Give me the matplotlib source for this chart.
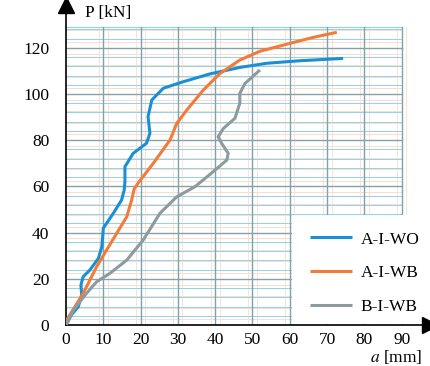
import matplotlib
matplotlib.use("Agg")
import matplotlib.pyplot as plt
import numpy as np

# ---- data ----
wo_x = [0, 1.5, 3.3, 4.2, 4.0, 4.6, 6.4, 8.7, 9.6, 10.0, 12.7, 14.9, 15.6, 15.8, 15.8, 18.0, 21.6, 22.5, 22.0, 23.0, 26.1, 31.4, 38.6, 46.6, 53.8, 62.7, 74.3]
wo_y = [0, 4.5, 7.9, 13.0, 17.3, 20.9, 23.8, 28.9, 33.9, 41.9, 48.4, 54.1, 58.4, 62.0, 68.5, 74.3, 78.7, 83.0, 90.2, 97.4, 102.5, 105.3, 108.7, 111.5, 113.3, 114.4, 115.4]

wb_x = [0, 0.2, 4.6, 8.2, 10.9, 13.6, 16.3, 17.6, 18.3, 19.5, 23.4, 27.9, 29.7, 32.4, 36.8, 41.3, 46.6, 52.0, 60.0, 66.0, 72.6]
wb_y = [0, 2.2, 13.7, 25.2, 32.5, 39.7, 46.9, 54.1, 59.0, 61.8, 70.0, 80.1, 87.3, 93.1, 101.7, 108.9, 114.7, 118.5, 121.9, 124.4, 126.7]

b_x = [0, 2.0, 5.5, 8.2, 11.8, 16.3, 20.7, 25.2, 29.7, 34.6, 40.0, 43.1, 43.5, 41.7, 40.8, 42.2, 45.3, 46.6, 46.6, 48.0, 52.0]
b_y = [0, 6.5, 13.7, 18.7, 22.4, 28.1, 36.8, 48.4, 55.5, 59.9, 67.1, 71.4, 74.3, 78.7, 81.5, 85.1, 89.5, 96.0, 100.3, 104.6, 110.4]

labels = ["A-I-WO", "A-I-WB", "B-I-WB"]
x_ticks = list(range(0, 100, 10))
y_ticks = list(range(0, 140, 20))

colors = ["#1a8fd4", "#f27b3a", "#8d9ba0"]

plt.rcParams['font.family'] = ['Liberation Serif', 'DejaVu Serif']
plt.rcParams['mathtext.fontset'] = 'stix'

fig = plt.figure(figsize=(4.31, 3.66), dpi=100)
ax = fig.add_axes([66/431, 1-325/366, (430-66)/431, (325-5)/366])
xmax = (430-66)/3.73
ymax = (325-5)/2.31
ax.set_xlim(0, xmax)
ax.set_ylim(0, ymax)

# grid
gx_max, gy_max = 90, 129
for y in np.arange(4, gy_max, 4):
    ax.plot([0, gx_max], [y, y], color="#8fd3e8", lw=0.7, zorder=1)
for y in np.arange(2.5, gy_max, 5):
    ax.plot([0, gx_max], [y, y], color="#f9dccf", lw=0.7, zorder=0.9)
for y in range(20, gy_max, 20):
    ax.plot([0, gx_max], [y, y], color="#86a2a6", lw=1.0, zorder=1.1)
ax.plot([0, gx_max], [gy_max, gy_max], color="#8fd3e8", lw=0.8, zorder=1)
for x in range(10, 91, 10):
    ax.plot([x, x], [0, gy_max], color="#7fa3a9", lw=1.0, zorder=1.1)
    ax.plot([x - 1.2, x - 1.2], [0, gy_max], color="#fbe2d6", lw=0.7, zorder=0.9)
    ax.plot([x + 1.2, x + 1.2], [0, gy_max], color="#fbe2d6", lw=0.7, zorder=0.9)

# series
for xs, ys, c, lab in [(wo_x, wo_y, colors[0], labels[0]),
                       (wb_x, wb_y, colors[1], labels[1]),
                       (b_x, b_y, colors[2], labels[2])]:
    ax.plot(xs, ys, color=c, lw=2.2, label=lab, zorder=3,
            solid_joinstyle='round', solid_capstyle='butt')

# legend box (white background)
ax.add_patch(plt.Rectangle((60.5, 0.3), xmax - 60.5, 47.5, facecolor="white", edgecolor="none", zorder=2))
leg = ax.legend(loc="lower right", bbox_to_anchor=(1.0, 0.0), frameon=False, fontsize=12.5,
                handlelength=2.4, labelspacing=1.0, handletextpad=0.5, borderaxespad=0.2)
leg.set_zorder(4)

# spines / arrows
for s in ["top", "right"]:
    ax.spines[s].set_visible(False)
ax.spines["left"].set_linewidth(1.2)
ax.spines["bottom"].set_linewidth(1.2)
ax.plot([0], [ymax], marker="^", color="black", markersize=11, clip_on=False, zorder=5)
ax.plot([xmax], [0], marker=">", color="black", markersize=11, clip_on=False, zorder=5)

ax.set_xticks(x_ticks)
ax.set_yticks(y_ticks)
ax.tick_params(length=0, labelsize=12.5)
ax.tick_params(axis='y', pad=12)
ax.tick_params(axis='x', pad=5)

ax.text(5, 135, "P [kN]", fontsize=12.5, ha="left", va="center")
ax.text(95.5, -14, r"$\mathit{a}$ [mm]", fontsize=12.5, ha="right", va="center", clip_on=False)

fig.savefig("out.png", dpi=100)
